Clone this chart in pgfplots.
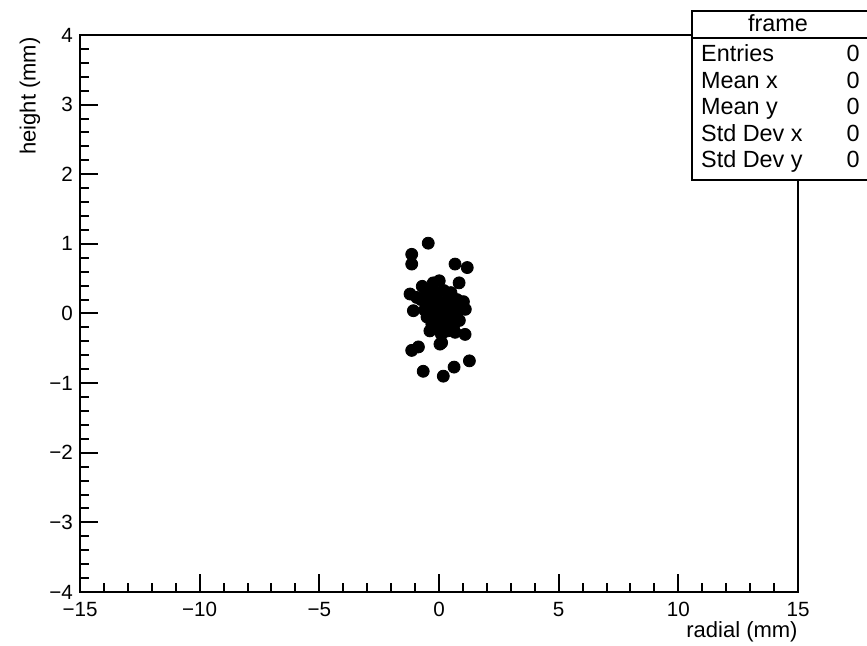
\documentclass[border=0pt]{standalone}
\usepackage{fontspec}
\setmainfont{Liberation Sans}
\usepackage{pgfplots}
\pgfplotsset{compat=1.18}

\pgfplotstableread{
x y
-0.45 1.01
-1.14 0.85
-1.14 0.71
0.67 0.71
1.18 0.66
0.84 0.44
0.01 0.47
-0.24 0.44
-0.70 0.39
-0.55 0.33
-1.21 0.28
-0.93 0.23
-1.07 0.04
1.02 0.17
1.10 0.06
1.09 -0.30
0.04 -0.44
0.11 -0.42
-1.14 -0.53
-0.86 -0.48
-0.66 -0.83
0.18 -0.90
0.63 -0.77
1.27 -0.68
-0.75 0.20
-0.60 0.05
-0.50 -0.05
-0.35 0.30
-0.30 0.15
-0.25 0.00
-0.30 -0.15
-0.38 -0.25
-0.10 0.30
-0.05 0.20
0.00 0.05
0.05 -0.10
0.00 -0.20
0.10 -0.30
0.20 0.33
0.25 0.15
0.30 0.00
0.25 -0.15
0.35 -0.25
0.50 0.30
0.50 0.10
0.55 -0.05
0.60 -0.20
0.67 -0.27
0.75 0.20
0.80 0.05
0.85 -0.10
-0.15 0.10
0.15 0.08
-0.45 0.12
0.40 0.22
-0.15 -0.10
0.40 -0.10
-0.60 0.20
0.90 0.15
}\frametable

\begin{document}
\begin{tikzpicture}
\useasboundingbox (-40pt,-27pt) rectangle (393.5pt,296pt);
\begin{axis}[
    at={(0,0)}, anchor=south west,
    scale only axis, width=359pt, height=278.5pt,
    xmin=-15, xmax=15, ymin=-4, ymax=4,
    xtick={-15,-10,...,15}, ytick={-4,-3,...,4},
    xticklabels={−15,−10,−5,0,5,10,15},
    yticklabels={−4,−3,−2,−1,0,1,2,3,4},
    minor x tick num=4, minor y tick num=4,
    tick align=inside, xtick pos=bottom, ytick pos=left,
    major tick length=9pt, minor tick length=4.5pt,
    axis line style={line width=1pt},
    every tick/.append style={black, line width=1pt},
    tick label style={font=\fontsize{10.3}{12}\selectfont},
    xticklabel style={yshift=-1.7pt},
    xlabel={radial (mm)}, ylabel={height (mm)},
    x label style={at={(axis description cs:1,0)}, anchor=base east, inner sep=0pt,
        yshift=-23pt, font=\fontsize{11}{13}\selectfont},
    y label style={at={(axis description cs:-0.0696,1)}, rotate=0, anchor=east, inner sep=1pt,
        font=\fontsize{11}{13}\selectfont},
]
\addplot[only marks, mark=*, mark size=3pt, black] table[x=x, y=y] {\frametable};
\end{axis}
% statistics box
\fill[white] (305.9pt,206pt) rectangle (400pt,290.5pt);
\draw[line width=1pt] (400pt,290.5pt) -- (305.9pt,290.5pt) -- (305.9pt,206pt) -- (400pt,206pt);
\draw[line width=1pt] (305.9pt,277pt) -- (400pt,277pt);
\begin{scope}[font=\fontsize{11.7}{13}\selectfont, inner sep=0pt]
\node[anchor=base] at (349pt,280.2pt) {frame};
\node[anchor=base west] at (310.4pt,265.15pt) {Entries};
\node[anchor=base west] at (310.4pt,251.9pt) {Mean x};
\node[anchor=base west] at (310.4pt,238.65pt) {Mean y};
\node[anchor=base west] at (310.4pt,225.4pt) {Std Dev x};
\node[anchor=base west] at (310.4pt,212.15pt) {Std Dev y};
\node[anchor=base] at (386.5pt,265.15pt) {0};
\node[anchor=base] at (386.5pt,251.9pt) {0};
\node[anchor=base] at (386.5pt,238.65pt) {0};
\node[anchor=base] at (386.5pt,225.4pt) {0};
\node[anchor=base] at (386.5pt,212.15pt) {0};
\end{scope}
\end{tikzpicture}
\end{document}
